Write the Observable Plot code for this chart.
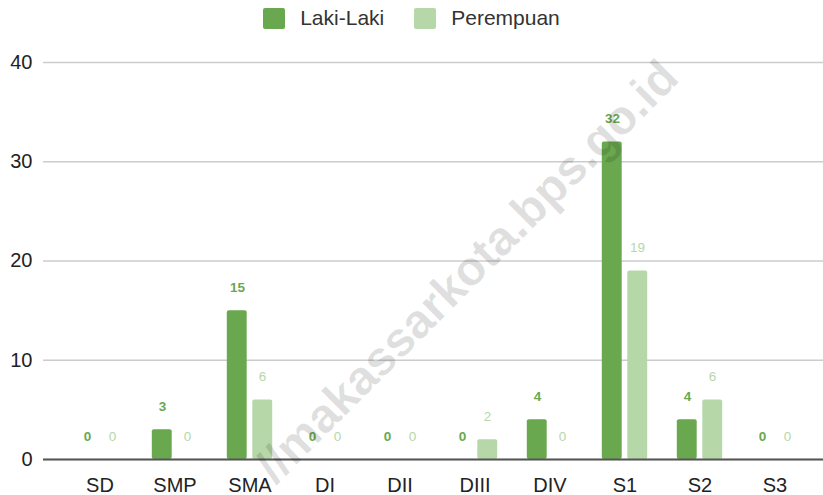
<!DOCTYPE html>
<html>
<head>
<meta charset="utf-8">
<script src="https://cdn.jsdelivr.net/npm/d3@7"></script>
<script src="https://cdn.jsdelivr.net/npm/@observablehq/plot@0.6"></script>
<style>
  html, body { margin: 0; padding: 0; background: #fff; }
  #wrap { position: relative; width: 823px; height: 495px; overflow: hidden; background: #fff; font-family: "Liberation Sans", Arial, sans-serif; }
  #legend { height: 36px; display: flex; justify-content: center; align-items: center; gap: 30px; font-size: 21px; color: #333; }
  .item { display: flex; align-items: center; }
  .sw { width: 22px; height: 21px; border-radius: 2px; margin-right: 15px; }
  #wm { position: absolute; left: 0; top: 0; pointer-events: none; }
</style>
</head>
<body>
<div id="wrap">
  <div id="legend"></div>
  <div id="chart"></div>
  <svg id="wm" width="823" height="495"></svg>
</div>
<script>
// ---- data ----
const categories = ["SD", "SMP", "SMA", "DI", "DII", "DIII", "DIV", "S1", "S2", "S3"];
const lakiLaki   = [0, 3, 15, 0, 0, 0, 4, 32, 4, 0];
const perempuan  = [0, 0, 6, 0, 0, 2, 0, 19, 6, 0];
const seriesNames = ["Laki-Laki", "Perempuan"];
const seriesColors = ["#6aa84f", "#b6d7a8"];
const yTicks = [0, 10, 20, 30, 40];
const watermarkText = "//makassarkota.bps.go.id";

const lakiRows = categories.map((c, i) => ({category: c, value: lakiLaki[i]}));
const perRows  = categories.map((c, i) => ({category: c, value: perempuan[i]}));

// ---- legend ----
const legend = document.getElementById("legend");
seriesNames.forEach((name, i) => {
  const it = document.createElement("div");
  it.className = "item";
  const sw = document.createElement("div");
  sw.className = "sw";
  sw.style.background = seriesColors[i];
  const tx = document.createElement("span");
  tx.textContent = name;
  it.appendChild(sw); it.appendChild(tx);
  legend.appendChild(it);
});

// ---- chart ----
const font = "'Liberation Sans', Arial, sans-serif";
const chart = Plot.plot({
  width: 823,
  height: 459,
  marginLeft: 43,
  marginRight: 0,
  marginTop: 26,
  marginBottom: 36,
  style: {fontFamily: font, fontSize: "20px", background: "transparent", overflow: "visible"},
  x: {domain: categories, paddingInner: 0, paddingOuter: 0.1553, align: 0.6457, label: null},
  y: {domain: [0, 40], label: null},
  marks: [
    Plot.gridY(yTicks, {stroke: "#cccccc", strokeOpacity: 1, strokeWidth: 1.3}),
    Plot.axisY(yTicks, {tickSize: 0, tickPadding: 11, fontSize: 20, fill: "#222", label: null}),
    Plot.axisX({tickSize: 0, tickPadding: 18, fontSize: 20, fill: "#222", label: null}),
    Plot.barY(lakiRows, {x: "category", y: "value", fill: seriesColors[0], insetLeft: 14.8, insetRight: 40.3, rx: 2}),
    Plot.barY(perRows, {x: "category", y: "value", fill: seriesColors[1], insetLeft: 40.3, insetRight: 14.8, rx: 2}),
    Plot.ruleY([0], {stroke: "#555", strokeWidth: 2}),
    Plot.text(lakiRows, {x: "category", y: "value", text: d => String(d.value), dx: -12.6, dy: -23, fontSize: 13.5, fill: seriesColors[0], fontWeight: "bold"}),
    Plot.text(perRows, {x: "category", y: "value", text: d => String(d.value), dx: 12.6, dy: -23, fontSize: 13.5, fill: seriesColors[1]})
  ]
});
document.getElementById("chart").appendChild(chart);

// ---- watermark ----
const wm = d3.select("#wm");
wm.append("text")
  .attr("x", 681).attr("y", 80)
  .attr("text-anchor", "end")
  .attr("transform", "rotate(-45 681 80)")
  .attr("font-family", font)
  .attr("font-weight", "bold")
  .attr("font-size", 48)
  .attr("fill", "rgba(0,0,0,0.12)")
  .text(watermarkText);
</script>
</body>
</html>
